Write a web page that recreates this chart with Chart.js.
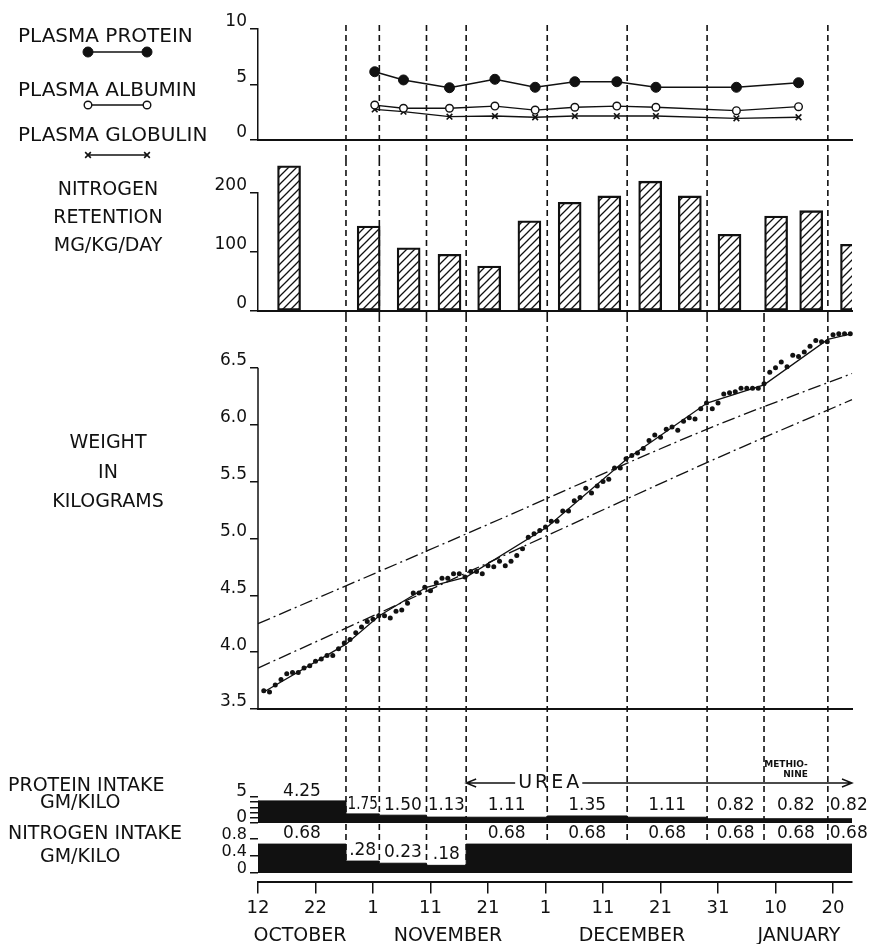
<!DOCTYPE html>
<html>
<head>
<meta charset="utf-8">
<script src="https://cdn.jsdelivr.net/npm/chart.js@4.4.0/dist/chart.umd.min.js"></script>
<style>
  body { margin: 0; background: #fff; }
  #wrap { position: relative; width: 878px; height: 944px; overflow: hidden;
          font-family: 'DejaVu Sans', sans-serif; color: #111; }
  #wrap canvas { position: absolute; left: 0; }
  .lbl { position: absolute; font-size: 19px; line-height: 1; white-space: nowrap; }
  .big { font-size: 20px; }
  .mid { left: 0; width: 216px; text-align: center; }
  .mon { width: 160px; text-align: center; }
</style>
</head>
<body>
<div id="wrap">
  <canvas id="plasma" width="878" height="160" style="top:0"></canvas>
  <canvas id="retention" width="878" height="156" style="top:160px"></canvas>
  <canvas id="weight" width="878" height="400" style="top:316px"></canvas>
  <canvas id="protein" width="878" height="108" style="top:716px"></canvas>
  <canvas id="nitrogen" width="878" height="120" style="top:824px"></canvas>

  <div class="lbl big" style="left:18px;top:25px">PLASMA PROTEIN</div>
  <div class="lbl big" style="left:18px;top:79px">PLASMA ALBUMIN</div>
  <div class="lbl big" style="left:18px;top:124px">PLASMA GLOBULIN</div>

  <div class="lbl mid" style="top:179px">NITROGEN</div>
  <div class="lbl mid" style="top:207px">RETENTION</div>
  <div class="lbl mid" style="top:235px">MG/KG/DAY</div>

  <div class="lbl mid" style="top:432px">WEIGHT</div>
  <div class="lbl mid" style="top:462px">IN</div>
  <div class="lbl mid" style="top:491px">KILOGRAMS</div>

  <div class="lbl" style="left:8px;top:775px">PROTEIN INTAKE</div>
  <div class="lbl" style="left:40px;top:792px">GM/KILO</div>
  <div class="lbl" style="left:8px;top:823px">NITROGEN INTAKE</div>
  <div class="lbl" style="left:40px;top:846px">GM/KILO</div>

  <div class="lbl mon" style="left:220px;top:925px">OCTOBER</div>
  <div class="lbl mon" style="left:368px;top:925px">NOVEMBER</div>
  <div class="lbl mon" style="left:552px;top:925px">DECEMBER</div>
  <div class="lbl mon" style="left:719px;top:925px">JANUARY</div>
</div>
<script>
// x values are days counted from October 12
const tickDays = [0, 10, 20, 30, 40, 50, 60, 70, 80, 90, 100];
const dateTicks = ['12', '22', '1', '11', '21', '1', '11', '21', '31', '10', '20'];
const X_MAX = 103.3;

// diet periods (dashed dividers) and start of methionine
const periodDays = [15.3, 21.1, 29.3, 36.2, 50.3, 64.2, 78.1, 99.1];
const methionineDay = 88;

// plasma, gm per 100 cc
const plasmaDays = [20.3, 25.3, 33.3, 41.2, 48.2, 55.1, 62.4, 69.2, 83.2, 94.0];
const plasmaProtein = [6.15, 5.41, 4.71, 5.47, 4.75, 5.25, 5.25, 4.75, 4.75, 5.16];
const plasmaAlbumin = [3.15, 2.86, 2.86, 3.06, 2.70, 2.95, 3.06, 2.95, 2.64, 3.00];
const plasmaGlobulin = [2.75, 2.55, 2.10, 2.16, 2.05, 2.16, 2.16, 2.16, 1.95, 2.05];

// nitrogen retention, mg/kg/day
const retentionDays = [5.4, 19.25, 26.2, 33.3, 40.2, 47.2, 54.2, 61.1, 68.2, 75.1, 82.0, 90.1, 96.2, 103.3];
const retention = [246, 144, 107, 96, 76, 153, 184, 195, 220, 195, 130, 161, 170, 113];

// daily weights (kg), first value is day 1
const weightKg = [
  3.66, 3.65, 3.71, 3.76, 3.81, 3.82, 3.82, 3.86, 3.88, 3.92,
  3.94, 3.97, 3.97, 4.03, 4.08, 4.11, 4.17, 4.22, 4.27, 4.29,
  4.32, 4.32, 4.30, 4.36, 4.37, 4.43, 4.52, 4.52, 4.57, 4.54,
  4.61, 4.65, 4.65, 4.69, 4.69, 4.66, 4.71, 4.71, 4.69, 4.76,
  4.75, 4.80, 4.76, 4.80, 4.85, 4.91, 5.01, 5.04, 5.07, 5.10,
  5.15, 5.15, 5.24, 5.24, 5.33, 5.36, 5.44, 5.40, 5.46, 5.50,
  5.52, 5.62, 5.62, 5.70, 5.73, 5.75, 5.79, 5.86, 5.91, 5.89,
  5.96, 5.98, 5.95, 6.03, 6.06, 6.05, 6.14, 6.19, 6.14, 6.19,
  6.27, 6.28, 6.29, 6.32, 6.32, 6.32, 6.32, 6.36, 6.46, 6.50,
  6.55, 6.51, 6.61, 6.60, 6.64, 6.69, 6.74, 6.73, 6.73, 6.79,
  6.80, 6.80, 6.80
];
// fitted trend per period
const fitDays = [1, 15.3, 21.1, 29.3, 36.2, 50.3, 64.2, 78.1, 88, 99.1, 103.3];
const fitKg = [3.65, 4.07, 4.32, 4.57, 4.66, 5.10, 5.70, 6.19, 6.35, 6.75, 6.80];
// expected growth curves
const normDaysA = [0, 44.4, 56.9, 80, 103.3];
const normKgA = [4.25, 5.22, 5.50, 6.00, 6.45];
const normDaysB = [0, 23.5, 50.5, 80, 103.3];
const normKgB = [3.86, 4.40, 5.03, 5.71, 6.22];

// intake per period, gm/kilo
const intakeDays = [0, 15.3, 21.1, 29.3, 36.2, 50.3, 64.2, 78.1, 88, 99.1, 103.3];
const proteinIntake = [4.25, 1.75, 1.50, 1.13, 1.11, 1.35, 1.11, 0.82, 0.82, 0.82];
const nitrogenIntake = [0.68, 0.28, 0.23, 0.18, 0.68, 0.68, 0.68, 0.68, 0.68, 0.68];
const nitrogenText = ['0.68', '.28', '0.23', '.18', '0.68', '0.68', '0.68', '0.68', '0.68', '0.68'];
const ureaFrom = 36.2;
const nitrogenTicks = [0, 0.4, 0.8];

const INK = '#111';
Chart.defaults.font.family = "'DejaVu Sans', sans-serif";
Chart.defaults.color = INK;
Chart.defaults.animation = false;
Chart.defaults.plugins.legend.display = false;
Chart.defaults.plugins.tooltip.enabled = false;

const pts = (xs, ys) => xs.map((x, i) => ({x, y: ys[i]}));
const steps = (edges, vals) => edges.map((x, i) => ({x, y: vals[Math.min(i, vals.length - 1)]}));

function dayAxis(extra) {
  return Object.assign({
    type: 'linear', min: 0, max: X_MAX, offset: false,
    ticks: {display: false},
    grid: {display: false},
    border: {display: true, color: INK, width: 2},
    afterFit(s) { s.height = 0; s.paddingLeft = 0; s.paddingRight = 0; }
  }, extra);
}

function valueAxis(min, max, step, fmt, extra) {
  return Object.assign({
    min, max,
    ticks: {stepSize: step, font: {size: 17}, padding: 3, labelOffset: -7, autoSkip: false, callback: fmt},
    grid: {display: true, drawOnChartArea: false, tickLength: 8, color: INK, lineWidth: 1.5},
    border: {display: true, color: INK, width: 1.5},
    afterFit(s) { s.width = 258; s.paddingTop = 0; s.paddingBottom = 0; }
  }, extra);
}

// dashed period dividers, drawn under the data across every panel
const periodLines = {
  id: 'periodLines',
  beforeDatasetsDraw(chart, args, opts) {
    const {ctx, scales: {x}} = chart;
    const draw = (day, from, to) => {
      const y0 = Math.max(0, from - opts.pageTop);
      const y1 = Math.min(chart.height, to - opts.pageTop);
      if (y1 <= y0) return;
      const px = x.getPixelForValue(day);
      ctx.beginPath(); ctx.moveTo(px, y0); ctx.lineTo(px, y1); ctx.stroke();
    };
    ctx.save();
    ctx.strokeStyle = INK;
    ctx.lineWidth = 1.6;
    ctx.setLineDash([6, 4]);
    periodDays.forEach(d => draw(d, 25, 873));
    draw(methionineDay, 313, 873);
    ctx.restore();
  }
};

// weight axis line runs only up to the top tick; points above it stay visible
const axisToTopTick = {
  id: 'axisToTopTick',
  beforeDatasetsDraw(chart) {
    const {ctx, scales: {y}} = chart;
    const top = y.ticks[y.ticks.length - 1].value;
    ctx.save();
    ctx.strokeStyle = INK;
    ctx.lineWidth = 1.5;
    ctx.beginPath();
    ctx.moveTo(y.right, y.getPixelForValue(y.min));
    ctx.lineTo(y.right, y.getPixelForValue(top));
    ctx.stroke();
    ctx.restore();
  }
};

// small key samples beside the plasma labels
const keyRows = [52, 105, 155];
const plasmaKey = {
  id: 'plasmaKey',
  afterDraw(chart) {
    const ctx = chart.ctx;
    chart.data.datasets.forEach((ds, i) => {
      const y = keyRows[i];
      ctx.save();
      ctx.strokeStyle = INK;
      ctx.lineWidth = ds.borderWidth;
      ctx.beginPath(); ctx.moveTo(88, y); ctx.lineTo(147, y); ctx.stroke();
      ctx.fillStyle = ds.pointBackgroundColor;
      ctx.lineWidth = ds.pointBorderWidth;
      [88, 147].forEach(px => Chart.helpers.drawPoint(ctx, {
        pointStyle: ds.pointStyle, radius: ds.pointRadius, rotation: 0, borderWidth: ds.pointBorderWidth
      }, px, y));
      ctx.restore();
    });
  }
};

// writes the value over each intake period
function periodText(chart, vals, texts, baseline) {
  const {ctx, scales: {x, y}} = chart;
  ctx.save();
  ctx.font = "17px 'DejaVu Sans'";
  ctx.fillStyle = INK;
  vals.forEach((v, i) => {
    const x0 = x.getPixelForValue(intakeDays[i]);
    const x1 = x.getPixelForValue(intakeDays[i + 1]);
    const by = baseline(y.getPixelForValue(v));
    if (i === vals.length - 1) {
      ctx.textAlign = 'left';
      ctx.fillText(texts[i], x0 + 2, by);
    } else {
      ctx.textAlign = 'center';
      ctx.fillText(texts[i], (x0 + x1) / 2, by, x1 - x0 - 3);
    }
  });
  ctx.restore();
}

const proteinNotes = {
  id: 'proteinNotes',
  afterDatasetsDraw(chart) {
    periodText(chart, proteinIntake, proteinIntake.map(v => v.toFixed(2)), py => Math.min(py - 5, 94));
    const {ctx, scales: {x}} = chart;
    const xa = x.getPixelForValue(ureaFrom), xb = x.getPixelForValue(X_MAX);
    const ay = 67;
    ctx.save();
    ctx.strokeStyle = INK; ctx.fillStyle = INK; ctx.lineWidth = 1.4;
    ctx.font = "19px 'DejaVu Sans'";
    ctx.letterSpacing = '3px';
    ctx.textAlign = 'left'; ctx.textBaseline = 'middle';
    const tx = xa + 52, tw = ctx.measureText('UREA').width;
    ctx.fillText('UREA', tx, ay);
    ctx.beginPath();
    ctx.moveTo(xa, ay); ctx.lineTo(tx - 3, ay);
    ctx.moveTo(tx + tw, ay); ctx.lineTo(xb, ay);
    ctx.moveTo(xa + 10, ay - 4); ctx.lineTo(xa, ay); ctx.lineTo(xa + 10, ay + 4);
    ctx.moveTo(xb - 10, ay - 4); ctx.lineTo(xb, ay); ctx.lineTo(xb - 10, ay + 4);
    ctx.stroke();
    ctx.letterSpacing = '0px';
    ctx.font = "bold 9px 'DejaVu Sans'";
    ctx.textAlign = 'right'; ctx.textBaseline = 'alphabetic';
    const mx = x.getPixelForValue(intakeDays[9]) - 20;
    ctx.fillText('METHIO-', mx, 51);
    ctx.fillText('NINE', mx, 61);
    ctx.restore();
  }
};

const nitrogenNotes = {
  id: 'nitrogenNotes',
  afterDatasetsDraw(chart) {
    periodText(chart, nitrogenIntake, nitrogenText, py => py - 6);
  }
};

function hatch() {
  const c = document.createElement('canvas');
  c.width = 8; c.height = 8;
  const g = c.getContext('2d');
  g.strokeStyle = INK; g.lineWidth = 1.3;
  g.beginPath();
  g.moveTo(0, 8); g.lineTo(8, 0);
  g.moveTo(-2, 2); g.lineTo(2, -2);
  g.moveTo(6, 10); g.lineTo(10, 6);
  g.stroke();
  return g.createPattern(c, 'repeat');
}

// plasma proteins
new Chart(document.getElementById('plasma'), {
  type: 'line',
  data: {
    datasets: [
      {data: pts(plasmaDays, plasmaProtein), borderColor: INK, borderWidth: 1.6,
       pointStyle: 'circle', pointRadius: 5, pointBackgroundColor: INK, pointBorderColor: INK, pointBorderWidth: 1},
      {data: pts(plasmaDays, plasmaAlbumin), borderColor: INK, borderWidth: 1.3,
       pointStyle: 'circle', pointRadius: 3.8, pointBackgroundColor: '#fff', pointBorderColor: INK, pointBorderWidth: 1.4},
      {data: pts(plasmaDays, plasmaGlobulin), borderColor: INK, borderWidth: 1.3,
       pointStyle: 'crossRot', pointRadius: 4, pointBackgroundColor: INK, pointBorderColor: INK, pointBorderWidth: 1.6}
    ]
  },
  options: {
    responsive: false,
    layout: {padding: {left: 0, right: 26, top: 29, bottom: 20}},
    scales: {x: dayAxis(), y: valueAxis(0, 10, 5, v => String(v))},
    plugins: {periodLines: {pageTop: 0}}
  },
  plugins: [periodLines, plasmaKey]
});

// nitrogen retention bars
new Chart(document.getElementById('retention'), {
  type: 'bar',
  data: {
    datasets: [{
      data: pts(retentionDays, retention),
      backgroundColor: hatch(), borderColor: INK, borderWidth: 1.6, borderSkipped: false,
      barThickness: 23, clip: {left: 0, right: 0, top: false, bottom: 0}
    }]
  },
  options: {
    responsive: false,
    layout: {padding: {left: 0, right: 26, top: 33, bottom: 5}},
    scales: {x: dayAxis(), y: valueAxis(0, 200, 100, v => String(v))},
    plugins: {periodLines: {pageTop: 160}}
  },
  plugins: [periodLines]
});

// body weight
new Chart(document.getElementById('weight'), {
  type: 'line',
  data: {
    datasets: [
      {data: weightKg.map((w, i) => ({x: i + 1, y: w})), showLine: false,
       pointRadius: 2.5, pointBackgroundColor: INK, pointBorderWidth: 0, clip: false},
      {data: pts(fitDays, fitKg), borderColor: INK, borderWidth: 1.3, pointRadius: 0, clip: false},
      {data: pts(normDaysA, normKgA), borderColor: INK, borderWidth: 1.3, pointRadius: 0,
       borderDash: [13, 4, 2, 4], cubicInterpolationMode: 'monotone', clip: false},
      {data: pts(normDaysB, normKgB), borderColor: INK, borderWidth: 1.3, pointRadius: 0,
       borderDash: [13, 4, 2, 4], cubicInterpolationMode: 'monotone', clip: false}
    ]
  },
  options: {
    responsive: false,
    layout: {padding: {left: 0, right: 26, top: 12, bottom: 7}},
    scales: {
      x: dayAxis(),
      y: valueAxis(3.5, 6.85, 0.5, v => v.toFixed(1), {
        border: {display: false},
        ticks: {stepSize: 0.5, includeBounds: false, font: {size: 17}, padding: 3, labelOffset: -7,
                autoSkip: false, callback: v => v.toFixed(1)}
      })
    },
    plugins: {periodLines: {pageTop: 316}}
  },
  plugins: [periodLines, axisToTopTick]
});

// protein intake
new Chart(document.getElementById('protein'), {
  type: 'line',
  data: {
    datasets: [{
      data: steps(intakeDays, proteinIntake), stepped: 'before', fill: 'origin',
      backgroundColor: INK, borderColor: INK, borderWidth: 1, pointRadius: 0
    }]
  },
  options: {
    responsive: false,
    layout: {padding: {left: 0, right: 26, top: 81, bottom: 1}},
    scales: {
      x: dayAxis({border: {display: false}}),
      y: valueAxis(0, 5, 1, null, {
        border: {display: false},
        ticks: {stepSize: 1, font: {size: 17}, padding: 3, labelOffset: -5, autoSkip: false,
                callback: v => (v === 0 || v === 5) ? String(v) : ''}
      })
    },
    plugins: {periodLines: {pageTop: 716}}
  },
  plugins: [periodLines, proteinNotes]
});

// nitrogen intake, with the date axis
new Chart(document.getElementById('nitrogen'), {
  type: 'line',
  data: {
    datasets: [{
      data: steps(intakeDays, nitrogenIntake), stepped: 'before', fill: 'origin',
      backgroundColor: INK, borderColor: INK, borderWidth: 1, pointRadius: 0
    }]
  },
  options: {
    responsive: false,
    layout: {padding: {left: 0, right: 26, top: 15, bottom: 22.5}},
    scales: {
      x: {
        type: 'linear', min: 0, max: X_MAX, offset: false,
        afterBuildTicks(s) { s.ticks = tickDays.map(value => ({value})); },
        ticks: {callback: (v, i) => dateTicks[i], font: {size: 18}, padding: 4, maxRotation: 0, autoSkip: false},
        grid: {display: true, drawOnChartArea: false, tickLength: 12, color: INK, lineWidth: 1.5},
        border: {display: true, color: INK, width: 2},
        afterFit(s) { s.height = 40; s.paddingLeft = 0; s.paddingRight = 0; }
      },
      y: valueAxis(-0.2, 0.8, 0.4, null, {
        border: {display: false},
        afterBuildTicks(s) { s.ticks = nitrogenTicks.map(value => ({value})); },
        ticks: {font: {size: 16}, padding: 3, labelOffset: -4, autoSkip: false, callback: v => String(v)}
      })
    },
    plugins: {periodLines: {pageTop: 824}}
  },
  plugins: [periodLines, nitrogenNotes]
});
</script>
</body>
</html>
